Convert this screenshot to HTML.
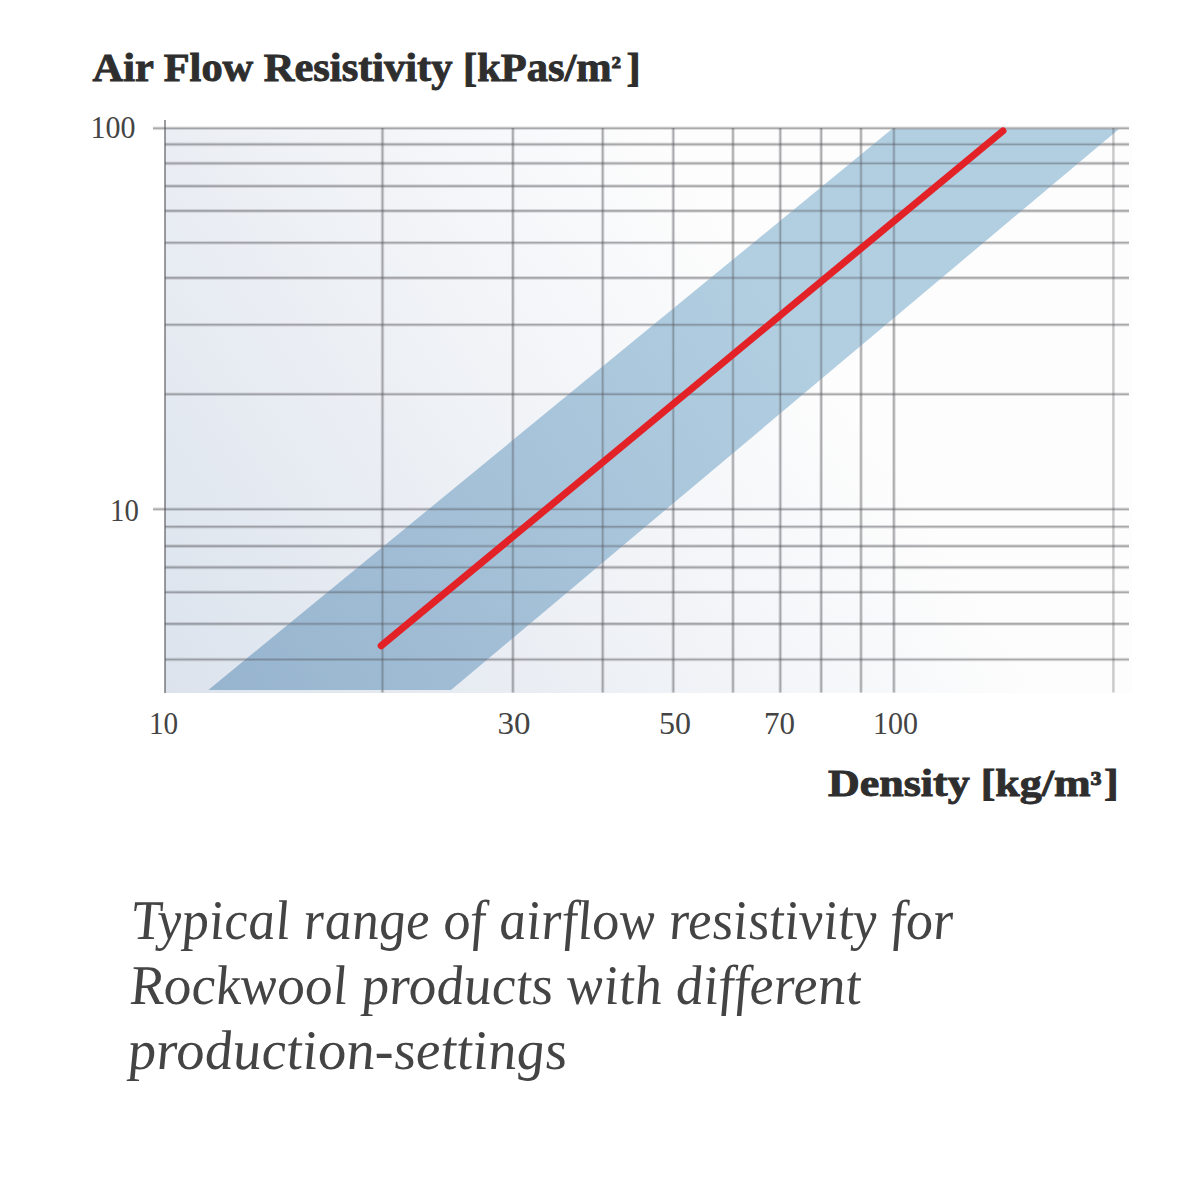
<!DOCTYPE html><html><head><meta charset="utf-8"><style>html,body{margin:0;padding:0;background:#fff;}svg{display:block;}</style></head><body><svg width="1200" height="1179" viewBox="0 0 1200 1179"><defs><linearGradient id="bg" gradientUnits="userSpaceOnUse" x1="165" y1="692" x2="761.6" y2="281.5"><stop offset="0" stop-color="#dce3ed"/><stop offset="1" stop-color="#fdfdfd"/></linearGradient><linearGradient id="band" gradientUnits="userSpaceOnUse" x1="165" y1="692" x2="761.6" y2="281.5"><stop offset="0" stop-color="#96b3ce"/><stop offset="1" stop-color="#b2cee1"/></linearGradient><clipPath id="inband"><polygon points="208.3,690 892,129 1119,129 451,690"/></clipPath><mask id="outband" maskUnits="userSpaceOnUse" x="0" y="0" width="1200" height="1179"><rect x="0" y="0" width="1200" height="1179" fill="#fff"/><polygon points="208.3,690 892,129 1119,129 451,690" fill="#000"/></mask></defs><rect x="0" y="0" width="1200" height="1179" fill="#fff"/><rect x="165" y="128" width="967" height="565" fill="url(#bg)"/><polygon points="208.3,690 892,129 1119,129 451,690" fill="url(#band)"/><g mask="url(#outband)"><g stroke="rgba(80,80,85,0.18)" stroke-width="3.6"><line x1="165" y1="128.3" x2="1129" y2="128.3"/><line x1="165" y1="144.4" x2="1129" y2="144.4"/><line x1="165" y1="163.4" x2="1129" y2="163.4"/><line x1="165" y1="186.1" x2="1129" y2="186.1"/><line x1="165" y1="210.9" x2="1129" y2="210.9"/><line x1="165" y1="242.8" x2="1129" y2="242.8"/><line x1="165" y1="277.9" x2="1129" y2="277.9"/><line x1="165" y1="324.8" x2="1129" y2="324.8"/><line x1="165" y1="394.2" x2="1129" y2="394.2"/><line x1="165" y1="509.2" x2="1129" y2="509.2"/><line x1="165" y1="526.8" x2="1129" y2="526.8"/><line x1="165" y1="546.1" x2="1129" y2="546.1"/><line x1="165" y1="567.4" x2="1129" y2="567.4"/><line x1="165" y1="592.2" x2="1129" y2="592.2"/><line x1="165" y1="623.9" x2="1129" y2="623.9"/><line x1="165" y1="659.5" x2="1129" y2="659.5"/><line x1="382.5" y1="128" x2="382.5" y2="692.5"/><line x1="512.9" y1="128" x2="512.9" y2="692.5"/><line x1="602.7" y1="128" x2="602.7" y2="692.5"/><line x1="673.3" y1="128" x2="673.3" y2="692.5"/><line x1="733.0" y1="128" x2="733.0" y2="692.5"/><line x1="780.3" y1="128" x2="780.3" y2="692.5"/><line x1="821.2" y1="128" x2="821.2" y2="692.5"/><line x1="861.0" y1="128" x2="861.0" y2="692.5"/><line x1="893.9" y1="128" x2="893.9" y2="692.5"/><line x1="153" y1="128.3" x2="165" y2="128.3"/><line x1="153" y1="509.2" x2="165" y2="509.2"/></g><g stroke="rgba(80,80,85,0.36)" stroke-width="1.6"><line x1="165" y1="128.3" x2="1129" y2="128.3"/><line x1="165" y1="144.4" x2="1129" y2="144.4"/><line x1="165" y1="163.4" x2="1129" y2="163.4"/><line x1="165" y1="186.1" x2="1129" y2="186.1"/><line x1="165" y1="210.9" x2="1129" y2="210.9"/><line x1="165" y1="242.8" x2="1129" y2="242.8"/><line x1="165" y1="277.9" x2="1129" y2="277.9"/><line x1="165" y1="324.8" x2="1129" y2="324.8"/><line x1="165" y1="394.2" x2="1129" y2="394.2"/><line x1="165" y1="509.2" x2="1129" y2="509.2"/><line x1="165" y1="526.8" x2="1129" y2="526.8"/><line x1="165" y1="546.1" x2="1129" y2="546.1"/><line x1="165" y1="567.4" x2="1129" y2="567.4"/><line x1="165" y1="592.2" x2="1129" y2="592.2"/><line x1="165" y1="623.9" x2="1129" y2="623.9"/><line x1="165" y1="659.5" x2="1129" y2="659.5"/><line x1="382.5" y1="128" x2="382.5" y2="692.5"/><line x1="512.9" y1="128" x2="512.9" y2="692.5"/><line x1="602.7" y1="128" x2="602.7" y2="692.5"/><line x1="673.3" y1="128" x2="673.3" y2="692.5"/><line x1="733.0" y1="128" x2="733.0" y2="692.5"/><line x1="780.3" y1="128" x2="780.3" y2="692.5"/><line x1="821.2" y1="128" x2="821.2" y2="692.5"/><line x1="861.0" y1="128" x2="861.0" y2="692.5"/><line x1="893.9" y1="128" x2="893.9" y2="692.5"/><line x1="153" y1="128.3" x2="165" y2="128.3"/><line x1="153" y1="509.2" x2="165" y2="509.2"/></g></g><g clip-path="url(#inband)"><g stroke="rgba(80,80,85,0.14)" stroke-width="3.2"><line x1="165" y1="128.3" x2="1129" y2="128.3"/><line x1="165" y1="144.4" x2="1129" y2="144.4"/><line x1="165" y1="163.4" x2="1129" y2="163.4"/><line x1="165" y1="186.1" x2="1129" y2="186.1"/><line x1="165" y1="210.9" x2="1129" y2="210.9"/><line x1="165" y1="242.8" x2="1129" y2="242.8"/><line x1="165" y1="277.9" x2="1129" y2="277.9"/><line x1="165" y1="324.8" x2="1129" y2="324.8"/><line x1="165" y1="394.2" x2="1129" y2="394.2"/><line x1="165" y1="509.2" x2="1129" y2="509.2"/><line x1="165" y1="526.8" x2="1129" y2="526.8"/><line x1="165" y1="546.1" x2="1129" y2="546.1"/><line x1="165" y1="567.4" x2="1129" y2="567.4"/><line x1="165" y1="592.2" x2="1129" y2="592.2"/><line x1="165" y1="623.9" x2="1129" y2="623.9"/><line x1="165" y1="659.5" x2="1129" y2="659.5"/><line x1="382.5" y1="128" x2="382.5" y2="692.5"/><line x1="512.9" y1="128" x2="512.9" y2="692.5"/><line x1="602.7" y1="128" x2="602.7" y2="692.5"/><line x1="673.3" y1="128" x2="673.3" y2="692.5"/><line x1="733.0" y1="128" x2="733.0" y2="692.5"/><line x1="780.3" y1="128" x2="780.3" y2="692.5"/><line x1="821.2" y1="128" x2="821.2" y2="692.5"/><line x1="861.0" y1="128" x2="861.0" y2="692.5"/><line x1="893.9" y1="128" x2="893.9" y2="692.5"/><line x1="153" y1="128.3" x2="165" y2="128.3"/><line x1="153" y1="509.2" x2="165" y2="509.2"/></g><g stroke="rgba(80,80,85,0.32)" stroke-width="1.4"><line x1="165" y1="128.3" x2="1129" y2="128.3"/><line x1="165" y1="144.4" x2="1129" y2="144.4"/><line x1="165" y1="163.4" x2="1129" y2="163.4"/><line x1="165" y1="186.1" x2="1129" y2="186.1"/><line x1="165" y1="210.9" x2="1129" y2="210.9"/><line x1="165" y1="242.8" x2="1129" y2="242.8"/><line x1="165" y1="277.9" x2="1129" y2="277.9"/><line x1="165" y1="324.8" x2="1129" y2="324.8"/><line x1="165" y1="394.2" x2="1129" y2="394.2"/><line x1="165" y1="509.2" x2="1129" y2="509.2"/><line x1="165" y1="526.8" x2="1129" y2="526.8"/><line x1="165" y1="546.1" x2="1129" y2="546.1"/><line x1="165" y1="567.4" x2="1129" y2="567.4"/><line x1="165" y1="592.2" x2="1129" y2="592.2"/><line x1="165" y1="623.9" x2="1129" y2="623.9"/><line x1="165" y1="659.5" x2="1129" y2="659.5"/><line x1="382.5" y1="128" x2="382.5" y2="692.5"/><line x1="512.9" y1="128" x2="512.9" y2="692.5"/><line x1="602.7" y1="128" x2="602.7" y2="692.5"/><line x1="673.3" y1="128" x2="673.3" y2="692.5"/><line x1="733.0" y1="128" x2="733.0" y2="692.5"/><line x1="780.3" y1="128" x2="780.3" y2="692.5"/><line x1="821.2" y1="128" x2="821.2" y2="692.5"/><line x1="861.0" y1="128" x2="861.0" y2="692.5"/><line x1="893.9" y1="128" x2="893.9" y2="692.5"/><line x1="153" y1="128.3" x2="165" y2="128.3"/><line x1="153" y1="509.2" x2="165" y2="509.2"/></g></g><line x1="1113.4" y1="128" x2="1113.4" y2="692.5" stroke="rgba(80,80,85,0.30)" stroke-width="2.4"/><line x1="165" y1="120" x2="165" y2="693" stroke="rgba(80,80,85,0.56)" stroke-width="2"/><line x1="381.2" y1="645.8" x2="1003" y2="130.9" stroke="#e32228" stroke-width="7" stroke-linecap="round"/><text x="92.60" y="80.7" font-size="39" font-family="Liberation Serif" font-weight="bold" fill="#2e2e2e" stroke="#2e2e2e" stroke-width="0.9" textLength="548.00" lengthAdjust="spacingAndGlyphs">Air Flow Resistivity [kPas/m<tspan font-size="29" dy="-4.8">²</tspan><tspan dy="4.8" dx="5">]</tspan></text><text x="828.00" y="795.8" font-size="38" font-family="Liberation Serif" font-weight="bold" fill="#2e2e2e" stroke="#2e2e2e" stroke-width="0.9" textLength="290.60" lengthAdjust="spacingAndGlyphs">Density [kg/m<tspan font-size="32" dy="-2">³</tspan><tspan dy="2" dx="2">]</tspan></text><g transform="translate(133.00,939) skewX(4.7)"><text x="0" y="0" font-size="56" font-family="Liberation Serif" font-style="italic" fill="#444" textLength="822.00" lengthAdjust="spacingAndGlyphs">Typical range of airflow resistivity for</text></g><g transform="translate(131.00,1004) skewX(4.7)"><text x="0" y="0" font-size="56" font-family="Liberation Serif" font-style="italic" fill="#444" textLength="731.00" lengthAdjust="spacingAndGlyphs">Rockwool products with different</text></g><g transform="translate(129.00,1069) skewX(4.7)"><text x="0" y="0" font-size="56" font-family="Liberation Serif" font-style="italic" fill="#444" textLength="439.00" lengthAdjust="spacingAndGlyphs">production-settings</text></g><text x="90.50" y="137.5" font-size="31" font-family="Liberation Serif" fill="#444" textLength="45.00" lengthAdjust="spacingAndGlyphs">100</text><text x="110.00" y="520.5" font-size="31" font-family="Liberation Serif" fill="#444" textLength="28.80" lengthAdjust="spacingAndGlyphs">10</text><text x="148.90" y="734.4" font-size="31" font-family="Liberation Serif" fill="#444" textLength="29.20" lengthAdjust="spacingAndGlyphs">10</text><text x="497.60" y="734.4" font-size="31" font-family="Liberation Serif" fill="#444" textLength="33.00" lengthAdjust="spacingAndGlyphs">30</text><text x="659.00" y="734.4" font-size="31" font-family="Liberation Serif" fill="#444" textLength="32.00" lengthAdjust="spacingAndGlyphs">50</text><text x="764.00" y="734.4" font-size="31" font-family="Liberation Serif" fill="#444" textLength="31.00" lengthAdjust="spacingAndGlyphs">70</text><text x="873.00" y="734.4" font-size="31" font-family="Liberation Serif" fill="#444" textLength="45.00" lengthAdjust="spacingAndGlyphs">100</text></svg></body></html>
